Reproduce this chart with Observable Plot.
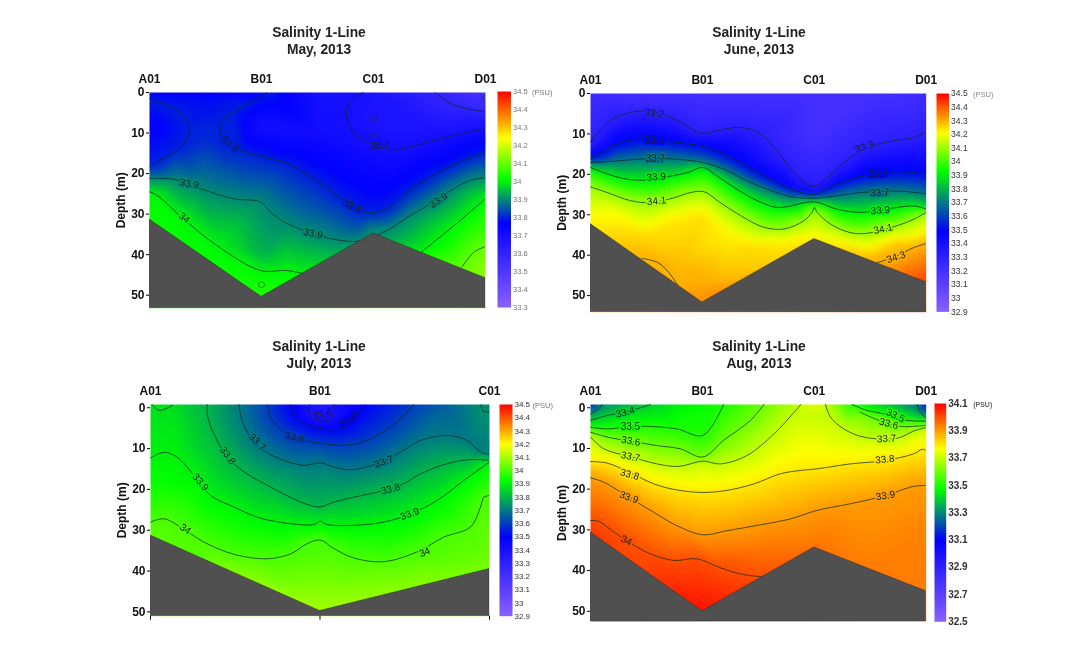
<!DOCTYPE html>
<html><head><meta charset="utf-8">
<script src="https://cdn.jsdelivr.net/npm/d3@7"></script>
<script src="https://cdn.jsdelivr.net/npm/@observablehq/plot@0.6"></script>
<style>
html,body{margin:0;background:#fff}
#page{position:relative;width:1067px;height:654px;overflow:hidden;font-family:"Liberation Sans",Arial,sans-serif;filter:blur(.35px)}
#page>div{position:absolute}
.title{font-weight:bold;font-size:13.8px;line-height:16.5px;text-align:center;color:#222;width:200px}
svg{overflow:visible}
</style></head>
<body><div id="page"></div>
<script>
const depthTicks=[0,10,20,30,40,50];
const rampColors=["#8a60ff","#0000ff","#00ff00","#ffff00","#ff0000"];

// May
const mayStations=["A01","B01","C01","D01"];
const mayBottom=[[0,31.3],[1,50.4],[2,34.8],[3,45.8]];
const mayLines=[
[33.6,[[2.55,0],[2.72,3.1],[3,4.8]]],
[33.7,[[3,8.9],[2.66,10.9],[2.33,13.4],[2.18,14.2],[2.09,13.4],[1.91,11.8],[1.79,8.5],[1.757,4.8],[1.82,1.5],[1.91,0]]],
[33.8,[[0,1.5],[.24,4.4],[.36,8.9],[.27,13.8],[.125,16.3],[0,18.3]]],
[33.8,[[3,14.7],[2.776,17.1],[2.54,20.4],[2.3,24.5],[2.15,28.2],[2.03,29.5],[1.91,29.5],[1.7,25.8],[1.466,21.2],[1.227,17.5],[1.02,15.9],[.81,14.2],[.69,13],[.63,9.7],[.646,7.2],[.75,4.8],[.9,2.5],[.99,1.1],[1.05,0]]],
[33.9,[[0,21.2],[.214,21.4],[.453,23.7],[.75,26.2],[.99,27],[1.08,29.5],[1.227,32.3],[1.466,34.8],[1.644,36.2],[1.853,36.7],[2.03,35.2],[2.15,33.6],[2.33,30.3],[2.54,27],[2.72,23.7],[2.87,21.6],[3,21.1]]],
[34,[[0,24.5],[.065,25.3],[.3,31.1],[.6,37.7],[.99,43.9],[1.227,43.9],[1.376,44.7]]],
[34,[[3,26.2],[2.72,32.8],[2.43,39.3]]],
[34.1,[[2.79,43],[2.9,39.3],[3,38]]]
];
const maySpots=[[0,0,33.77],[.5,0,33.77],[1,0,33.72],[1.5,0,33.7],[2,0,33.67],[3,0,33.52],[1,8,33.7],[2,6,33.67],[2.5,8,33.67],[0,8,33.76],[.5,11,33.805],[1.5,10,33.71],[0,31.3,34.02],[.5,40,34.01],[1,50.4,34.04],[1.5,43,33.98],[2,34.8,33.92],[2.5,41,34.04],[3,45.8,34.14],[2.7,38,34.03],[1,40,33.94],[.5,28,33.93],[1.5,30,33.86],[0,53.2,34],[3,53.2,34.14]];
const mayLabels=[[.72,12.6,"33.8",40],[1.81,28,"33.8",25],[2.055,13.2,"33.7",0],[.357,22.5,"33.9",10],[1.46,34.8,"33.9",12],[2.58,26.6,"33.9",-35],[.31,30.9,"34",40]];
const mayRings=[[1,47.4],[2,6.3],[2,11],[3,1.5]];
const mayScale=[33.3,33.77,34.01,34.24,34.5];
const mayTicks=[33.3,33.4,33.5,33.6,33.7,33.8,33.9,34,34.1,34.2,34.3,34.4,34.5];

// June
const juneStations=["A01","B01","C01","D01"];
const juneBottom=[[0,32.3],[1,51.7],[2,36],[3,46.7]];
const juneLines=[
[33.3,[[0,12],[.15,7.2],[.3,5.1],[.477,4.3],[.685,5.5],[.834,7.6],[.983,9.8],[1.13,9.2],[1.34,8.4],[1.52,10],[1.7,15.4],[1.877,21.2],[2,23],[2.115,20.8],[2.264,17.1],[2.47,13.4],[2.71,11.7],[2.89,10.9],[3,9.5]]],
[33.5,[[0,16.2],[.238,12.5],[.417,11.3],[.566,11.5],[.774,12.1],[.983,13],[1.13,14.2],[1.34,17.1],[1.55,20.4],[1.79,23.7],[2,24.9],[2.175,22.8],[2.38,20.8],[2.59,19.6],[2.8,19.4],[3,20]]],
[33.7,[[0,17.1],[.238,16.7],[.447,16.2],[.655,16.1],[.834,16.4],[1.01,17.1],[1.19,18.7],[1.4,21.6],[1.58,23.7],[1.79,25.5],[2,25.9],[2.2,25.3],[2.41,24.5],[2.62,24.2],[2.8,24.2],[3,24.9]]],
[33.9,[[0,18.3],[.15,19.9],[.327,21.2],[.506,21.4],[.685,20.6],[.864,19.6],[1.004,18.3],[1.13,20.4],[1.31,23.7],[1.49,26.5],[1.67,28.2],[2,26.8],[2.2,28.6],[2.41,29.4],[2.74,28.2],[2.89,27.8],[3,28.6]]],
[34.1,[[0,23.1],[.15,24.5],[.357,26.5],[.536,27],[.745,25.8],[.894,24.5],[1.013,24.3],[1.16,27],[1.34,30.2],[1.55,33.1],[1.73,33.5],[1.906,31.5],[1.98,29.4],[2,28.2],[2.026,29.4],[2.145,32.3],[2.32,34.4],[2.47,34.6],[2.74,32.7],[2.89,31.1],[3,29.4]]],
[34.3,[[2.55,42],[2.74,40.1],[2.89,38.1],[3,37.1]]],
[34.3,[[.46,40.8],[.6,41.8],[.7,44.3],[.775,47.2]]]
];
const juneSpots=[[0,0,33.22],[.5,0,33.2],[1,0,33.2],[1.5,0,33.2],[2,0,33.2],[2.5,0,33.2],[3,0,33.22],[2,10,33.2],[.5,2,33.24],[1,30,34.24],[1,45,34.3],[.5,35,34.25],[.25,30,34.21],[0,27,34.17],[0,31,34.22],[.75,31,34.23],[.8,41,34.28],[1.2,45,34.28],[1.25,35,34.22],[1.5,38,34.25],[1.75,37,34.23],[2,35.5,34.22],[2.3,38,34.24],[2.5,41,34.3],[2.75,37,34.27],[3,46.7,34.43],[3,40,34.34],[0,54.1,34.3],[3,54.1,34.45]];
const juneLabels=[[.57,4.9,"33.2",8],[2.45,13.2,"33.3",-20],[.57,11.5,"33.5",3],[2.57,19.8,"33.5",-3],[.58,16.2,"33.7",0],[2.585,24.5,"33.7",-3],[.587,20.6,"33.9",-4],[2.59,28.9,"33.9",-4],[.59,26.6,"34.1",-5],[2.615,33.5,"34.1",-12],[2.73,40.5,"34.3",-18]];
const juneScale=[32.9,33.49,33.93,34.21,34.5];
const juneTicks=[32.9,33,33.1,33.2,33.3,33.4,33.5,33.6,33.7,33.8,33.9,34,34.1,34.2,34.3,34.4,34.5];

// July
const julyStations=["A01","B01","C01"];
const julyBottom=[[0,31.3],[1,49.8],[2,39.5]];
const julyLines=[
[33.4,[[.94,-.8],[.934,1.06],[.964,2.7],[1.019,3.3],[1.066,2.45],[1.082,.65],[1.082,-.8]]],
[33.5,[[.826,-.8],[.865,2.7],[.964,4.7],[1.082,5.4],[1.17,4.3],[1.229,1.06],[1.268,-.8]]],
[33.6,[[.688,-.8],[.708,2.3],[.777,5.6],[.885,7.8],[1.023,8.8],[1.14,9.2],[1.278,8],[1.416,4.7],[1.504,1.5],[1.553,-.8]]],
[33.7,[[.521,-.8],[.54,3.1],[.59,7.2],[.669,10.5],[.787,12.9],[.905,14.1],[1.003,13.5],[1.082,14.5],[1.18,15.2],[1.337,13.7],[1.475,10.9],[1.593,8],[1.75,6.8],[1.868,8],[1.95,10.9],[2,11.4]]],
[33.8,[[.334,-.8],[.338,2.3],[.383,7.2],[.462,12.5],[.57,16.2],[.708,19.4],[.865,22.7],[.993,24.3],[1.082,23.1],[1.2,21.9],[1.337,20.7],[1.475,19],[1.593,16.2],[1.75,13.7],[1.888,12.7],[2,12.9]]],
[33.9,[[0,12.3],[.079,10.9],[.157,12.1],[.265,17],[.354,21.5],[.492,24.3],[.63,26.8],[.806,28.3],[.964,28.6],[.999,27.8],[1.042,28.6],[1.2,28.8],[1.377,28],[1.534,26],[1.691,22.7],[1.849,17.8],[2,13.3]]],
[34,[[0,28],[.079,27.2],[.177,29.2],[.315,32.9],[.492,35.9],[.688,37],[.826,35.8],[.924,33.3],[.999,32.4],[1.082,34.5],[1.2,36.8],[1.377,37.7],[1.573,35.3],[1.73,31.7],[1.888,29.2],[1.947,24.3],[1.967,21.9],[2,21.5]]],
[33.87,[[.01,-.8],[.05,.65],[.13,-.6]]],
[33.74,[[1.95,-.8],[1.96,.7],[2,1.1]]]
];
const julySpots=[[0,-.8,33.88],[.25,-.8,33.82],[2,-.8,33.72],[1.75,-.8,33.66],[1,-.8,33.34],[1,1,33.36],[0,5,33.88],[0,20,33.94],[0,31.3,34.02],[.5,41,34.07],[1,49.8,34.1],[1.5,44,34.07],[2,39.5,34.05],[2,30,34.03],[0,51,34.05],[2,51,34.08]];
const julyLabels=[[1.012,1.6,"33.4",-15],[1.17,2.9,"33.5",-35],[.85,7.2,"33.6",15],[.63,8.4,"33.7",45],[1.377,13.2,"33.7",-20],[.456,11.7,"33.8",55],[1.416,19.9,"33.8",-15],[.295,18.2,"33.9",50],[1.53,26,"33.9",-20],[.206,29.7,"34",35],[1.617,35.4,"34",-22]];
const julyScale=[32.9,33.5,33.92,34.2,34.5];
const julyTicks=[32.9,33,33.1,33.2,33.3,33.4,33.5,33.6,33.7,33.8,33.9,34,34.1,34.2,34.3,34.4,34.5];

// August
const augStations=["A01","B01","C01","D01"];
const augBottom=[[0,30.6],[1,50],[2,34.3],[3,45.1]];
const augLines=[
[33.3,[[0,1.5],[.074,.2],[.104,-.8]]],
[33.3,[[2.92,-.8],[2.935,.65],[3,2.5]]],
[33.4,[[0,3.1],[.15,1.9],[.31,1.06],[.447,0],[.536,-.8]]],
[33.5,[[0,4.8],[.15,5.2],[.357,4.6],[.536,4.6],[.774,5.2],[1.004,6.8],[1.19,-.8]]],
[33.5,[[2.338,-.8],[2.47,.65],[2.62,1.5],[2.8,3],[3,3.3]]],
[33.6,[[0,6],[.15,7.2],[.357,8.2],[.596,9.3],[.804,10.1],[1.004,12.1],[1.19,8],[1.43,3.1],[1.55,-.8]]],
[33.6,[[2.41,1.1],[2.577,3.1],[2.77,4.6],[3,4.3]]],
[33.7,[[0,7.2],[.12,10.1],[.357,12],[.596,13.8],[.79,14.4],[1.004,13.1],[1.16,13.8],[1.4,11.7],[1.64,6.4],[1.82,1.1],[1.88,-.8]]],
[33.7,[[2.1,-.8],[2.145,2.3],[2.264,5.2],[2.44,7.2],[2.74,7.5],[2.89,5.7],[3,4.8]]],
[33.8,[[0,13.2],[.15,13.6],[.343,15.8],[.566,18.7],[.774,20.2],[1.004,20.8],[1.22,20.3],[1.46,18.7],[1.7,16.2],[1.877,15.4],[2.026,15],[2.32,13.8],[2.62,13],[2.89,11.3],[2.965,10.2],[3,10.5]]],
[33.9,[[0,17.2],[.12,18.3],[.343,22],[.566,25.7],[.774,29],[1.004,31.2],[1.22,30.2],[1.49,28.9],[1.787,27.3],[2.026,25.2],[2.32,23.6],[2.62,21.7],[2.89,19.3],[3,19.1]]],
[34,[[0,27.7],[.074,27.9],[.194,30.2],[.313,32.5],[.536,35.9],[.745,37.5],[.953,37.1],[1.16,39.3],[1.37,41],[1.534,41.5]]]
];
const augSpots=[[0,-.8,33.12],[.1,-.8,33.26],[3,-.8,33.08],[2.9,-.8,33.27],[2,-.8,33.74],[.8,-.8,33.45],[1,-.8,33.47],[1.3,-.8,33.53],[2.2,-.8,33.62],[0,30.6,34.03],[1,50,34.08],[1.5,41.5,34],[2,34.3,33.95],[2.5,40,33.94],[3,45.1,33.94],[3,30,33.93],[1.5,35,33.95],[0,52.5,34.05],[3,52.5,33.95]];
const augLabels=[[.31,1.1,"33.4",-15],[.357,4.6,"33.5",0],[2.725,1.9,"33.5",25],[.36,8.2,"33.6",10],[2.666,3.9,"33.6",15],[.357,12,"33.7",12],[2.645,7.6,"33.7",-3],[.35,16.4,"33.8",15],[2.63,12.7,"33.8",-5],[.343,22,"33.9",20],[2.636,21.6,"33.9",-8],[.32,32.6,"34",25]];
const augScale=[32.5,33.1,33.47,33.77,34.1];
const augTicks=[32.5,32.7,32.9,33.1,33.3,33.5,33.7,33.9,34.1];

// layout
const frames=[
 {name:"May, 2013",cx:319,ty:25,left:149,top:92.3,w:336,h:215.7,depth:[0,53.2],bar:[497,91.3,13.5,216],barFont:[7.5,"#777","normal"],psu:[21,7.5,"#777","normal"],st:mayStations,lines:mayLines,spots:maySpots,labels:mayLabels,rings:mayRings,bottom:mayBottom,scale:mayScale,ticks:mayTicks},
 {name:"June, 2013",cx:759,ty:25,left:590,top:93,w:335.7,h:218.7,depth:[0,54.1],bar:[935.7,93.3,12.6,218.4],barFont:[8.5,"#333","normal"],psu:[24,7.5,"#888","normal"],st:juneStations,lines:juneLines,spots:juneSpots,labels:juneLabels,rings:[],bottom:juneBottom,scale:juneScale,ticks:juneTicks},
 {name:"July, 2013",cx:319,ty:339,left:150,top:404,w:339,h:211.7,depth:[-.8,51.06],bar:[499,404,13,211.7],barFont:[8,"#333","normal"],psu:[20,7.5,"#777","normal"],st:julyStations,lines:julyLines,spots:julySpots,labels:julyLabels,rings:[],bottom:julyBottom,scale:julyScale,ticks:julyTicks,bottomTicks:true},
 {name:"Aug, 2013",cx:759,ty:339,left:590,top:404,w:335.7,h:217,depth:[-.8,52.5],bar:[934,402.7,11.7,218.3],barFont:[10,"#333","bold"],psu:[27,7,"#666","bold"],st:augStations,lines:augLines,spots:augSpots,labels:augLabels,rings:[],bottom:augBottom,scale:augScale,ticks:augTicks}
];

const page=document.getElementById("page");
const ML=50,MT=30,MB=10,MR=6;
const fmt=d=>String(+d.toFixed(1));

for(const f of frames){
  const t=document.createElement("div");
  t.className="title";
  t.style.left=(f.cx-100)+"px"; t.style.top=f.ty+"px";
  t.innerHTML="Salinity 1-Line<br>"+f.name;
  page.appendChild(t);

  const color={type:"linear",domain:f.scale,range:rampColors,clamp:true};
  const field=f.lines.flatMap(([v,pts])=>pts.map(([x,d])=>({x,d,v}))).concat(f.spots.map(([x,d,v])=>({x,d,v})));
  const n=f.st.length-1;
  const marks=[
    Plot.raster(field,{x:"x",y:"d",fill:"v",interpolate:"barycentric",blur:3,pixelSize:1}),
    ...f.lines.map(([v,pts])=>Plot.line(pts,{x:p=>p[0],y:p=>p[1],curve:"catmull-rom",stroke:"#0c2a1c",strokeWidth:.85,strokeOpacity:.85,clip:"frame"})),
    Plot.dot(f.rings,{x:p=>p[0],y:p=>p[1],r:3,stroke:"#0c2a1c",strokeWidth:.7,strokeOpacity:.7,clip:"frame"}),
    Plot.areaY(f.bottom,{x:p=>p[0],y1:p=>p[1],y2:()=>f.depth[1],fill:"#505050",stroke:"#2e2e2e",strokeWidth:.5,clip:"frame"}),
    Plot.text(f.labels,{x:p=>p[0],y:p=>p[1],text:p=>p[2],rotate:p=>p[3],stroke:(p)=>+p[2]===33.2?33.3:+p[2],strokeWidth:3,fill:"#132018",fontSize:10}),
    Plot.axisX({anchor:"top",ticks:d3.range(n+1),tickFormat:i=>f.st[i],tickSize:0,tickPadding:9,label:null,fontSize:12,fontWeight:"bold",fill:"#111"}),
    Plot.axisY({anchor:"left",ticks:depthTicks,tickSize:3,tickPadding:2,label:"Depth (m)",labelAnchor:"center",labelArrow:"none",labelOffset:33,fontSize:12,fontWeight:"bold",fill:"#111"})
  ];
  if(f.bottomTicks) marks.push(Plot.axisX({anchor:"bottom",ticks:d3.range(n+1),tickFormat:()=>"",tickSize:4,label:null}));
  const plot=Plot.plot({
    width:ML+f.w+MR,height:MT+f.h+MB,marginLeft:ML,marginRight:MR,marginTop:MT,marginBottom:MB,
    style:{fontFamily:"Liberation Sans",background:"transparent",overflow:"visible"},
    x:{domain:[0,n],axis:null},
    y:{domain:f.depth,reverse:true,axis:null},
    color,marks
  });
  const box=document.createElement("div");
  box.style.left=(f.left-ML)+"px"; box.style.top=(f.top-MT)+"px";
  box.appendChild(plot); page.appendChild(box);

  // colour bar
  const [bx,by,bw,bh]=f.bar, lo=f.scale[0], hi=f.scale[4], pad=8;
  const barPlot=Plot.plot({
    width:bw+60,height:bh+2*pad,marginLeft:0,marginRight:60,marginTop:pad,marginBottom:pad,
    style:{fontFamily:"Liberation Sans",background:"transparent",overflow:"visible"},
    x:{domain:[0,1],axis:null},
    y:{domain:[lo,hi],axis:null},
    color,
    marks:[
      Plot.raster({x1:0,x2:1,y1:lo,y2:hi,fill:(x,y)=>y,pixelSize:1}),
      Plot.axisY({anchor:"right",ticks:f.ticks,tickFormat:fmt,tickSize:0,tickPadding:2,label:null,fontSize:f.barFont[0],fontWeight:f.barFont[2],fill:f.barFont[1]}),
      Plot.text(["(PSU)"],{x:()=>1,y:()=>hi,text:d=>d,dx:f.psu[0],dy:1,textAnchor:"start",fontSize:f.psu[1],fontWeight:f.psu[3],fill:f.psu[2]})
    ]
  });
  const bbox=document.createElement("div");
  bbox.style.left=bx+"px"; bbox.style.top=(by-pad)+"px";
  bbox.appendChild(barPlot); page.appendChild(bbox);
}
</script>
</body></html>
